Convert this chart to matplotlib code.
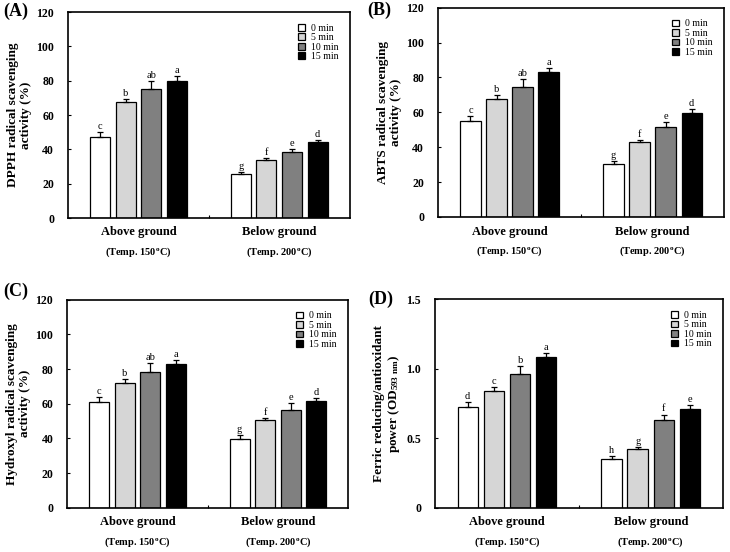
import numpy as np
import matplotlib
matplotlib.use("Agg")
import matplotlib.pyplot as plt

plt.rcParams['font.family'] = ['Liberation Serif', 'DejaVu Serif']
plt.rcParams['mathtext.fontset'] = 'custom'
plt.rcParams['mathtext.rm'] = 'Liberation Serif:bold'
plt.rcParams['mathtext.bf'] = 'Liberation Serif:bold'
plt.rcParams['mathtext.it'] = 'Liberation Serif:bold'

groups = ['Above ground', 'Below ground']
temps = [r'(Temp. 150$^{\rm o}$C)', r'(Temp. 200$^{\rm o}$C)']
times = ['0 min', '5 min', '10 min', '15 min']
colors = ['white', '#d6d6d6', '#808080', 'black']

# values[time][group]
dpph = [[47.5, 25.6], [67.4, 33.7], [75.4, 38.4], [80.0, 44.2]]
dpph_err = [[2.5, 1.2], [2.0, 1.2], [4.6, 2.0], [2.7, 1.3]]
dpph_let = [['c', 'g'], ['b', 'f'], ['ab', 'e'], ['a', 'd']]

abts = [[55.1, 30.6], [67.9, 42.9], [74.8, 51.5], [83.1, 59.9]]
abts_err = [[3.0, 1.7], [2.0, 1.3], [4.4, 3.0], [2.5, 2.0]]
abts_let = [['c', 'g'], ['b', 'f'], ['ab', 'e'], ['a', 'd']]

hydroxyl = [[61.0, 39.7], [72.0, 50.5], [78.6, 56.3], [82.8, 61.7]]
hydroxyl_err = [[3.0, 2.1], [2.3, 1.5], [4.8, 3.9], [2.7, 1.6]]
hydroxyl_let = [['c', 'g'], ['b', 'f'], ['ab', 'e'], ['a', 'd']]

frap = [[0.726, 0.353], [0.843, 0.425], [0.960, 0.628], [1.082, 0.714]]
frap_err = [[0.036, 0.017], [0.024, 0.010], [0.060, 0.043], [0.030, 0.024]]
frap_let = [['d', 'h'], ['c', 'g'], ['b', 'f'], ['a', 'e']]

pct_ticks = [0, 20, 40, 60, 80, 100, 120]
pct_labels = ['0', '20', '40', '60', '80', '100', '120']
od_ticks = [0, 0.5, 1.0, 1.5]
od_labels = ['0', '0.5', '1.0', '1.5']

panels = [
    ('(A)', (0.004, 0.979), [0.093, 0.605, 0.386, 0.373], dpph, dpph_err, dpph_let,
     'DPPH radical scavenging\nactivity (%)', 120, pct_ticks, pct_labels),
    ('(B)', (0.503, 0.981), [0.600, 0.607, 0.392, 0.379], abts, abts_err, abts_let,
     'ABTS radical scavenging\nactivity (%)', 120, pct_ticks, pct_labels),
    ('(C)', (0.004, 0.472), [0.092, 0.080, 0.385, 0.377], hydroxyl, hydroxyl_err, hydroxyl_let,
     'Hydroxyl radical scavenging\nactivity (%)', 120, pct_ticks, pct_labels),
    ('(D)', (0.505, 0.458), [0.596, 0.080, 0.394, 0.378], frap, frap_err, frap_let,
     'Ferric reducing/antioxidant\npower (OD$_{593\\ nm}$)', 1.5, od_ticks, od_labels),
]

fig = plt.figure(figsize=(7.3, 5.52), dpi=100)
x = np.arange(len(groups))
w = 0.142
step = 0.182

for label, lpos, pos, vals, errs, lets, ylab, ymax, yt, ytl in panels:
    ax = fig.add_axes(pos)
    for i, t in enumerate(times):
        xi = x + (i - 1.5) * step
        ax.bar(xi, vals[i], w, color=colors[i], edgecolor='black', linewidth=0.9, label=t, zorder=2)
        ax.errorbar(xi, vals[i], yerr=[[0, 0], errs[i]], fmt='none', ecolor='black',
                    elinewidth=0.9, capsize=2, capthick=0.9, zorder=3)
        for j in range(len(groups)):
            ax.text(xi[j], vals[i][j] + errs[i][j] + ymax * 0.005, lets[i][j],
                    ha='center', va='bottom', fontsize=7.5)
    ax.set_xlim(-0.5, 1.5)
    ax.set_ylim(0, ymax)
    ax.set_yticks(yt)
    ax.set_yticklabels(ytl, fontweight='bold', fontsize=8.5)
    ax.set_xticks([0.5])
    ax.set_xticklabels([''])
    ax.tick_params(axis='both', direction='in', length=2.5, width=0.8)
    ax.tick_params(axis='y', pad=10)
    for s in ax.spines.values():
        s.set_linewidth(1.2)
    ax.set_ylabel(ylab, fontweight='bold', fontsize=9.5, labelpad=3, linespacing=1.1)
    for j in range(len(groups)):
        ax.text(x[j], -0.07, groups[j], transform=ax.get_xaxis_transform(),
                ha='center', va='center', fontweight='bold', fontsize=9)
        ax.text(x[j], -0.165, temps[j], transform=ax.get_xaxis_transform(),
                ha='center', va='center', fontweight='bold', fontsize=7.5)
    ax.legend(loc='upper right', frameon=False, fontsize=7, handlelength=0.7, handleheight=0.7,
              handletextpad=0.6, labelspacing=0.05, borderaxespad=0.8)
    fig.text(lpos[0], lpos[1], label, ha='left', va='center', fontweight='bold', fontsize=13)

fig.savefig('out.png', dpi=100)
